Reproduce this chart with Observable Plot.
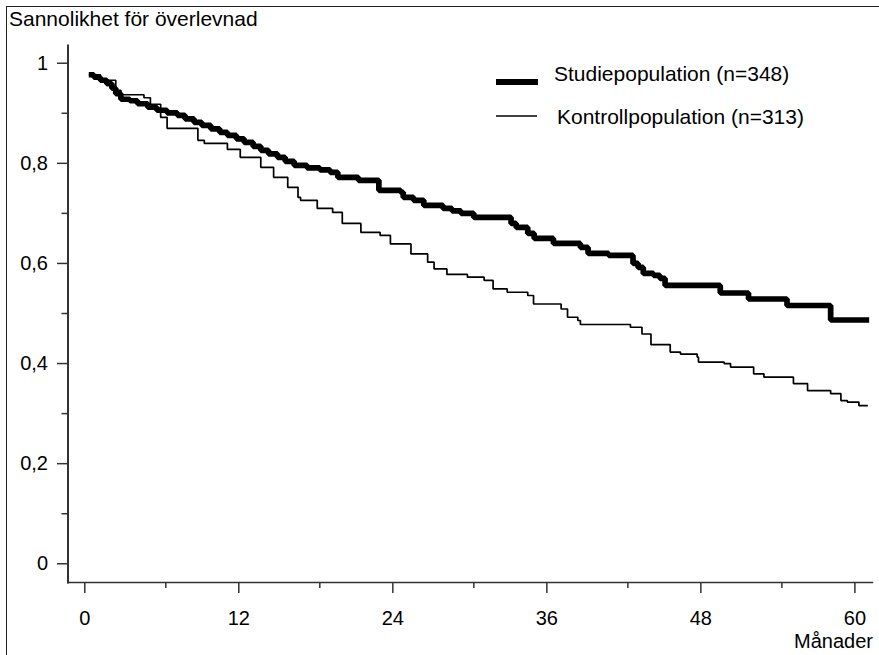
<!DOCTYPE html>
<html>
<head>
<meta charset="utf-8">
<script src="https://cdn.jsdelivr.net/npm/d3@7"></script>
<script src="https://cdn.jsdelivr.net/npm/@observablehq/plot@0.6"></script>
<style>
  html, body { margin: 0; padding: 0; background: #fff; }
  #wrap { position: relative; width: 879px; height: 655px; overflow: hidden; font-family: "Liberation Sans", Arial, sans-serif; }
  #frame { position: absolute; left: 6px; top: 6px; width: 900px; height: 700px; border-top: 1.5px solid #222; border-left: 1.5px solid #222; box-sizing: border-box; }
  #chart { position: absolute; left: 0; top: 0; }
</style>
</head>
<body>
<div id="wrap"><div id="frame"></div><div id="chart"></div></div>
<script>
// Study population (n=348): Kaplan–Meier step values
const studyMonths = [0, 0.4, 0.9, 1.4, 1.8, 2.1, 2.5, 3.2, 3.8, 4.6, 5.3, 6.1, 6.9, 7.5, 8.2, 8.8, 9.5, 10.2, 10.8, 11.5, 12.1, 12.8, 13.4, 14.0, 14.7, 15.3, 16.0, 17.0, 18.0, 18.8, 19.4, 21.0, 22.6, 24.3, 24.5, 25.3, 26.1, 27.6, 28.3, 29.0, 30.0, 32.9, 33.3, 34.2, 34.7, 36.2, 38.3, 38.9, 40.5, 42.4, 42.8, 43.2, 44.0, 44.5, 44.9, 49.2, 51.4, 54.4, 57.8, 60.8];
const studySurv   = [0.977, 0.972, 0.966, 0.959, 0.950, 0.939, 0.928, 0.925, 0.919, 0.912, 0.906, 0.901, 0.896, 0.889, 0.882, 0.876, 0.869, 0.862, 0.856, 0.849, 0.842, 0.834, 0.826, 0.819, 0.812, 0.804, 0.796, 0.791, 0.787, 0.782, 0.772, 0.766, 0.746, 0.742, 0.732, 0.726, 0.716, 0.710, 0.705, 0.700, 0.692, 0.680, 0.672, 0.660, 0.650, 0.640, 0.632, 0.620, 0.616, 0.600, 0.592, 0.580, 0.576, 0.570, 0.556, 0.541, 0.529, 0.516, 0.487, 0.487];

// Control population (n=313)
const controlMonths = [0, 0.9, 2.1, 2.5, 4.3, 4.8, 5.6, 6.1, 8.5, 9.0, 10.8, 11.8, 13.4, 14.4, 15.5, 16.3, 16.5, 17.8, 19.0, 19.75, 21.2, 22.7, 23.5, 25.1, 26.4, 26.9, 27.9, 29.5, 30.8, 31.5, 32.6, 34.2, 34.65, 36.8, 37.3, 38.1, 38.3, 42.2, 43.1, 43.8, 45.3, 46.1, 47.4, 47.5, 49.5, 50.0, 51.8, 52.6, 54.9, 56.0, 57.8, 58.6, 59.1, 60.0, 60.7];
const controlSurv   = [0.977, 0.966, 0.946, 0.937, 0.931, 0.918, 0.892, 0.870, 0.846, 0.840, 0.828, 0.812, 0.792, 0.772, 0.752, 0.732, 0.726, 0.710, 0.702, 0.680, 0.662, 0.656, 0.639, 0.619, 0.6025, 0.589, 0.578, 0.5725, 0.566, 0.549, 0.5425, 0.536, 0.519, 0.509, 0.4925, 0.486, 0.478, 0.4725, 0.459, 0.438, 0.423, 0.419, 0.413, 0.403, 0.400, 0.393, 0.3795, 0.373, 0.360, 0.346, 0.340, 0.326, 0.323, 0.316, 0.316];

const seriesNames = ["Studiepopulation (n=348)", "Kontrollpopulation (n=313)"];
const yMajorTicks = [0, 0.2, 0.4, 0.6, 0.8, 1];
const yMinorTicks = [0.1, 0.3, 0.5, 0.7, 0.9];
const xMajorTicks = [0, 12, 24, 36, 48, 60];
const xMinorTicks = [6, 18, 30, 42, 54];
const titleText = "Sannolikhet för överlevnad";
const xLabelText = "Månader";

const study = studyMonths.map((t, i) => ({t, s: studySurv[i]}));
const control = controlMonths.map((t, i) => ({t, s: controlSurv[i]}));

const yFmt = d => d === 0 ? "0" : d === 1 ? "1" : d.toFixed(1).replace(".", ",");
const axisColor = "#333";

const chart = Plot.plot({
  width: 879,
  height: 655,
  marginLeft: 67.5,
  marginRight: 7,
  marginTop: 45,
  marginBottom: 73,
  x: {domain: [-1.62, 61.06]},
  y: {domain: [-0.0374, 1.0354]},
  style: {fontFamily: "'Liberation Sans', Arial, sans-serif", fontSize: "20px", background: "transparent", color: "#000", overflow: "visible"},
  marks: [
    Plot.axisY({ticks: yMajorTicks, tickSize: 10.5, tickPadding: 9.5, tickFormat: yFmt, label: null, stroke: axisColor, fill: "#000", strokeWidth: 1.5, fontSize: 20}),
    Plot.axisY({ticks: yMinorTicks, tickSize: 6, label: null, stroke: axisColor, fill: "none", strokeWidth: 1.5}),
    Plot.axisX({ticks: xMajorTicks, tickSize: 11, tickPadding: 17, tickFormat: d => String(d), label: null, stroke: axisColor, fill: "#000", strokeWidth: 1.5, fontSize: 20, dx: -4}),
    Plot.axisX({ticks: xMinorTicks, tickSize: 6, label: null, stroke: axisColor, fill: "none", strokeWidth: 1.5}),
    Plot.frame({anchor: "left", stroke: axisColor, strokeWidth: 2}),
    Plot.frame({anchor: "bottom", stroke: axisColor, strokeWidth: 1.5}),
    Plot.line(control, {x: "t", y: "s", curve: "step-after", stroke: "#000", strokeWidth: 1.7, strokeLinecap: "butt", strokeLinejoin: "miter"}),
    Plot.line(study, {x: "t", y: "s", curve: "step-after", stroke: "#000", strokeWidth: 5.7, strokeLinecap: "butt", strokeLinejoin: "miter"})
  ]
});

document.getElementById("chart").appendChild(chart);

// Title, axis label and legend
const svg = d3.select(chart);
const font = "'Liberation Sans', Arial, sans-serif";
svg.append("text").attr("x", 9).attr("y", 26).attr("text-anchor", "start").attr("font-family", font).attr("font-size", 21).attr("fill", "#000").text(titleText);
svg.append("text").attr("x", 873).attr("y", 648).attr("text-anchor", "end").attr("font-family", font).attr("font-size", 20).attr("fill", "#000").text(xLabelText);

const leg = svg.append("g").attr("text-anchor", "start");
leg.append("line").attr("x1", 496).attr("x2", 538).attr("y1", 82).attr("y2", 82).attr("stroke", "#000").attr("stroke-width", 6);
leg.append("text").attr("x", 554).attr("y", 81).attr("text-anchor", "start").attr("font-family", font).attr("font-size", 21).attr("fill", "#000").text(seriesNames[0]);
leg.append("line").attr("x1", 496).attr("x2", 537).attr("y1", 116).attr("y2", 116).attr("stroke", "#000").attr("stroke-width", 1.5);
leg.append("text").attr("x", 557).attr("y", 124).attr("text-anchor", "start").attr("font-family", font).attr("font-size", 21).attr("fill", "#000").text(seriesNames[1]);
</script>
</body>
</html>
